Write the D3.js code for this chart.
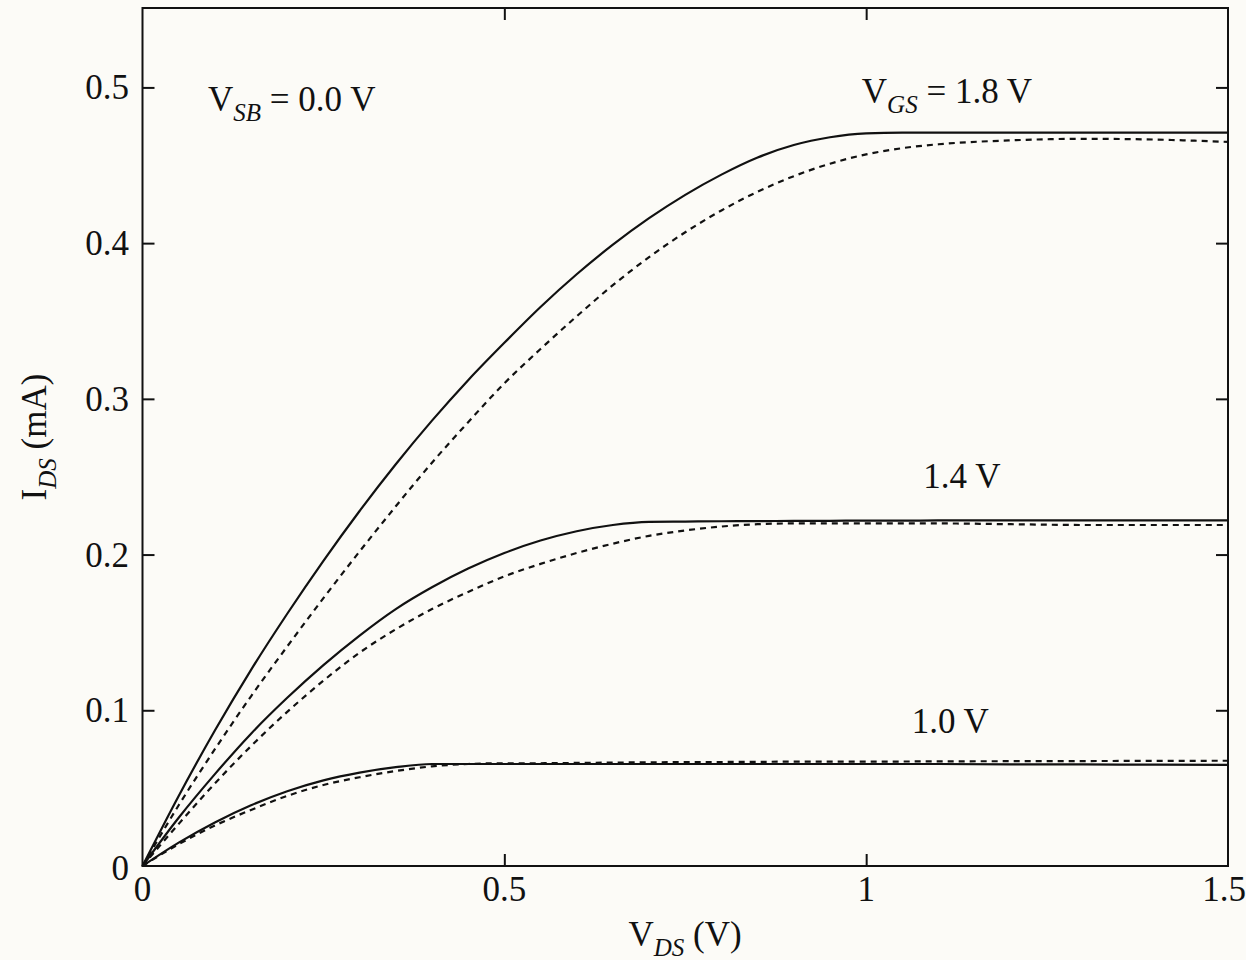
<!DOCTYPE html>
<html>
<head>
<meta charset="utf-8">
<script src="https://cdn.jsdelivr.net/npm/d3@7"></script>
<style>
  html, body { margin: 0; padding: 0; background: #fcfbf7; }
  svg { display: block; }
  text { font-family: "Liberation Serif", "DejaVu Serif", serif; fill: #111; }
</style>
</head>
<body>
<svg id="chart" width="1246" height="960"></svg>
<script>
// ---- data ----
const vds = [0, 0.05, 0.1, 0.15, 0.2, 0.25, 0.3, 0.35, 0.4, 0.45, 0.5, 0.55, 0.6, 0.65, 0.7, 0.75, 0.8, 0.85, 0.9, 0.95, 1.0, 1.05, 1.1, 1.2, 1.3, 1.4, 1.5];

const ids18Solid  = [0, 0.045, 0.087, 0.126, 0.162, 0.196, 0.228, 0.258, 0.286, 0.312, 0.336, 0.359, 0.380, 0.399, 0.416, 0.431, 0.444, 0.455, 0.463, 0.468, 0.4705, 0.471, 0.471, 0.471, 0.471, 0.471, 0.471];
const ids18Dashed = [0, 0.039, 0.075, 0.109, 0.141, 0.172, 0.202, 0.231, 0.259, 0.285, 0.310, 0.332, 0.353, 0.373, 0.391, 0.407, 0.421, 0.433, 0.443, 0.451, 0.457, 0.461, 0.4635, 0.466, 0.467, 0.4665, 0.465];

const ids14Solid  = [0, 0.031, 0.059, 0.085, 0.108, 0.129, 0.148, 0.165, 0.179, 0.191, 0.201, 0.209, 0.215, 0.219, 0.221, 0.2212, 0.2214, 0.2215, 0.2216, 0.2217, 0.2218, 0.2218, 0.2219, 0.2219, 0.222, 0.222, 0.222];
const ids14Dashed = [0, 0.027, 0.053, 0.077, 0.099, 0.119, 0.137, 0.152, 0.165, 0.176, 0.186, 0.194, 0.201, 0.207, 0.212, 0.2155, 0.218, 0.2195, 0.220, 0.220, 0.220, 0.220, 0.220, 0.2195, 0.219, 0.219, 0.219];

const ids10Solid  = [0, 0.015, 0.028, 0.039, 0.048, 0.055, 0.060, 0.0635, 0.0655, 0.0655, 0.0655, 0.0655, 0.0655, 0.0655, 0.0655, 0.0655, 0.0655, 0.0655, 0.0655, 0.0655, 0.0655, 0.0655, 0.0655, 0.0653, 0.0652, 0.0651, 0.065];
const ids10Dashed = [0, 0.014, 0.026, 0.036, 0.045, 0.052, 0.057, 0.061, 0.064, 0.0655, 0.066, 0.066, 0.0662, 0.0664, 0.0666, 0.0667, 0.0668, 0.0669, 0.067, 0.067, 0.067, 0.0671, 0.0672, 0.0673, 0.0674, 0.0675, 0.0676];

const xTicks = [0, 0.5, 1, 1.5];
const xTickLabels = ["0", "0.5", "1", "1.5"];
const yTicks = [0, 0.1, 0.2, 0.3, 0.4, 0.5];
const yTickLabels = ["0", "0.1", "0.2", "0.3", "0.4", "0.5"];

const curveLabels = [
  { main: "V", sub: "GS", rest: " = 1.8 V", x: 0.994, y: 0.490 },
  { main: "", sub: "", rest: "1.4 V", x: 1.079, y: 0.2428 },
  { main: "", sub: "", rest: "1.0 V", x: 1.063, y: 0.0854 }
];

// ---- layout ----
const svg = d3.select("#chart");
const mLeft = 142.5, mRight = 1228, mTop = 8, mBottom = 866;
const x = d3.scaleLinear().domain([0, 1.5]).range([mLeft, mRight]);
const y = d3.scaleLinear().domain([0, 0.551]).range([mBottom, mTop]);

const series = [
  { v: ids18Solid, dash: null },
  { v: ids18Dashed, dash: "6,5" },
  { v: ids14Solid, dash: null },
  { v: ids14Dashed, dash: "6,5" },
  { v: ids10Solid, dash: null },
  { v: ids10Dashed, dash: "6,5" }
];

const line = d3.line()
  .x(d => x(d[0]))
  .y(d => y(d[1]))
  .curve(d3.curveMonotoneX);

const g = svg.append("g");
series.forEach(s => {
  g.append("path")
    .datum(vds.map((v, i) => [v, s.v[i]]))
    .attr("d", line)
    .attr("fill", "none")
    .attr("stroke", "#111")
    .attr("stroke-width", 2.2)
    .attr("stroke-dasharray", s.dash);
});

// axes with inward ticks
const tickLen = 12;
const axB = d3.axisBottom(x).tickValues(xTicks.slice(1, 3)).tickSize(-tickLen).tickFormat("");
const axT = d3.axisTop(x).tickValues(xTicks.slice(1, 3)).tickSize(-tickLen).tickFormat("");
const axL = d3.axisLeft(y).tickValues(yTicks.slice(1)).tickSize(-tickLen).tickFormat("");
const axR = d3.axisRight(y).tickValues(yTicks.slice(1)).tickSize(-tickLen).tickFormat("");
[[axB, `translate(0,${mBottom})`], [axT, `translate(0,${mTop})`], [axL, `translate(${mLeft},0)`], [axR, `translate(${mRight},0)`]]
  .forEach(([ax, tr]) => {
    const a = svg.append("g").attr("transform", tr).call(ax);
    a.select(".domain").remove();
    a.selectAll(".tick line").attr("stroke", "#111").attr("stroke-width", 2);
  });

// frame
svg.append("rect")
  .attr("x", mLeft).attr("y", mTop)
  .attr("width", mRight - mLeft).attr("height", mBottom - mTop)
  .attr("fill", "none").attr("stroke", "#111").attr("stroke-width", 2);

// tick labels
const fs = 35;
svg.append("g").selectAll("text").data(xTicks).join("text")
  .attr("x", d => x(d)).attr("y", 901)
  .attr("dx", (d, i) => i === xTicks.length - 1 ? -4 : 0)
  .attr("text-anchor", "middle").attr("font-size", fs)
  .text((d, i) => xTickLabels[i]);
svg.append("g").selectAll("text").data(yTicks).join("text")
  .attr("x", 129).attr("y", d => y(d) + (d === 0 ? 14 : 12))
  .attr("text-anchor", "end").attr("font-size", fs)
  .text((d, i) => yTickLabels[i]);

// helper for V_sub text
function subText(sel, main, sub, rest) {
  if (main) sel.append("tspan").text(main);
  if (sub) sel.append("tspan").attr("dy", 10).attr("font-size", 25).attr("font-style", "italic").text(sub);
  sel.append("tspan").attr("dy", sub ? -10 : 0).text(rest);
}

// axis titles
const xt = svg.append("text").attr("x", 685).attr("y", 946).attr("text-anchor", "middle").attr("font-size", fs);
subText(xt, "V", "DS", " (V)");
const yt = svg.append("text").attr("transform", "translate(46,437) rotate(-90)").attr("text-anchor", "middle").attr("font-size", fs);
subText(yt, "I", "DS", " (mA)");

// annotation
const sb = svg.append("text").attr("x", 208).attr("y", 111).attr("font-size", fs);
subText(sb, "V", "SB", " = 0.0 V");

curveLabels.forEach(l => {
  const t = svg.append("text").attr("x", x(l.x)).attr("y", y(l.y)).attr("font-size", fs);
  subText(t, l.main, l.sub, l.rest);
});
</script>
</body>
</html>
